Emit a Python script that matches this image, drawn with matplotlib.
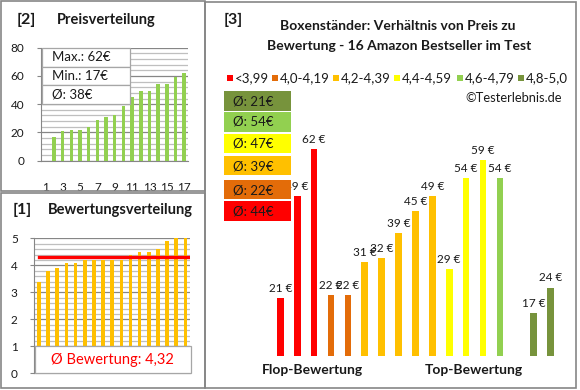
import numpy as np
import matplotlib
matplotlib.use('Agg')
import matplotlib.pyplot as plt
from matplotlib.patches import Rectangle

plt.rcParams['font.family'] = ['Lato', 'DejaVu Sans']

# --- data ---
price_sorted = [17, 21, 22, 22, 24, 29, 31, 32, 39, 45, 49, 49, 54, 54, 59, 62]
rating_sorted = [3.4, 3.8, 3.9, 4.1, 4.1, 4.2, 4.2, 4.2, 4.2, 4.2, 4.4, 4.5, 4.5, 4.6, 4.9, 5.0, 5.0]
avg_rating = 4.32
groups = ['<3,99', '4,0-4,19', '4,2-4,39', '4,4-4,59', '4,6-4,79', '4,8-5,0']
group_colors = ['#FF0000', '#E36C09', '#FFC000', '#FFFF00', '#92D050', '#77933C']
group_prices = [[21, 49, 62], [22, 22], [31, 32, 39, 45, 49], [29, 54, 59], [54], [17, 24]]

W, H = 580, 390
GRID_MAJ = '#868686'
GRID_MIN = '#BFBFBF'
TXT = '#1a1a1a'


def box(x0, y0, x1, y1):
    # pixel box (top-left origin) -> figure fraction rect
    return [x0 / W, 1 - y1 / H, (x1 - x0) / W, (y1 - y0) / H]


def frect(x0, y0, x1, y1, **kw):
    r = Rectangle((x0 / W, 1 - y1 / H), (x1 - x0) / W, (y1 - y0) / H,
                  transform=fig.transFigure, **kw)
    fig.add_artist(r)
    return r


def ftext(x, y, s, **kw):
    return fig.text(x / W, 1 - y / H, s, **kw)


def round_half_up(v):
    return int(np.floor(v + 0.5))


fig = plt.figure(figsize=(W / 100, H / 100), dpi=100)

# panel frames
frect(1, 1, 205, 191, fill=False, edgecolor=GRID_MAJ, lw=1.2, zorder=5)
frect(1, 193, 205, 388, fill=False, edgecolor=GRID_MAJ, lw=1.2, zorder=5)
frect(205, 2, 576, 388, fill=False, edgecolor=GRID_MAJ, lw=1.2, zorder=5)

# ---------------- [2] Preisverteilung ----------------
ax2 = fig.add_axes(box(41, 47.7, 188.5, 160.7))
xp = np.arange(2, len(price_sorted) + 2)
ax2.bar(xp, price_sorted, width=0.4, color='#92D050', zorder=3)
ax2.set_xlim(0.5, 17.5)
ax2.set_ylim(0, 80)
ax2.set_yticks(np.arange(0, 81, 20))
ax2.set_yticks(np.arange(0, 81, 4), minor=True)
ax2.set_xticks(np.arange(1, 18, 2))
ax2.grid(axis='y', which='major', color=GRID_MAJ, lw=0.9, zorder=0)
ax2.grid(axis='y', which='minor', color=GRID_MIN, lw=0.9, zorder=0)
ax2.tick_params(axis='x', length=0, pad=15, labelsize=8.5, labelcolor=TXT)
ax2.tick_params(axis='y', which='major', length=3, color=GRID_MAJ, pad=9, labelsize=8.5, labelcolor=TXT)
ax2.tick_params(axis='y', which='minor', length=0)
for s in ['top', 'right']:
    ax2.spines[s].set_visible(False)
for s in ['left', 'bottom']:
    ax2.spines[s].set_color(GRID_MAJ)

ftext(26, 20, '[2]', fontsize=11.5, fontweight='bold', ha='center', va='center', color=TXT)
ftext(57, 20, 'Preisverteilung', fontsize=10.5, fontweight='bold', ha='left', va='center', color=TXT)

stats = ['Max.: %d€' % max(price_sorted),
         'Min.: %d€' % min(price_sorted),
         'Ø: %d€' % round_half_up(np.mean(price_sorted))]
rows = [(47.7, 66.7), (66.7, 85.3), (85.3, 104)]
for (t, b), s in zip(rows, stats):
    frect(41.7, t, 130, b, facecolor='white', edgecolor='#A6A6A6', lw=0.9, zorder=6)
    ftext(52, (t + b) / 2, s, fontsize=9.5, ha='left', va='center', color=TXT, zorder=7)

# ---------------- [1] Bewertungsverteilung ----------------
ax1 = fig.add_axes(box(34.4, 238.3, 190, 373.3))
xr = np.arange(1, len(rating_sorted) + 1)
ax1.bar(xr, rating_sorted, width=0.4, color='#FFC000', zorder=3)
ax1.plot([xr[0], xr[-1] + 0.25], [avg_rating, avg_rating], color='#FF0000', lw=2.4, zorder=4)
ax1.set_xlim(0.5, 17.5)
ax1.set_ylim(0, 5)
ax1.set_yticks(np.arange(0, 6, 1))
ax1.set_yticks(np.arange(0, 5.01, 0.2), minor=True)
ax1.set_xticks([])
ax1.grid(axis='y', which='major', color=GRID_MAJ, lw=0.9, zorder=0)
ax1.grid(axis='y', which='minor', color=GRID_MIN, lw=0.9, zorder=0)
ax1.tick_params(axis='y', which='major', length=3, color=GRID_MAJ, pad=9, labelsize=8.5, labelcolor=TXT)
ax1.tick_params(axis='y', which='minor', length=0)
for s in ['top', 'right']:
    ax1.spines[s].set_visible(False)
for s in ['left', 'bottom']:
    ax1.spines[s].set_color(GRID_MAJ)

frect(35, 345.7, 190.7, 373.3, facecolor='white', edgecolor='#A6A6A6', lw=0.9, zorder=6)
ftext(112, 360, 'Ø Bewertung: ' + ('%.2f' % avg_rating).replace('.', ','),
      fontsize=10.5, ha='center', va='center', color='#FF0000', zorder=7)
ftext(22, 210, '[1]', fontsize=11.5, fontweight='bold', ha='center', va='center', color=TXT)
ftext(48, 210, 'Bewertungsverteilung', fontsize=10.5, fontweight='bold', ha='left', va='center', color=TXT)

# ---------------- [3] Preis zu Bewertung ----------------
ax3 = fig.add_axes(box(271.9, 119.9, 559, 355.7))
xs, vals, cols = [], [], []
pos = 0
for gi, prices in enumerate(group_prices):
    if gi == len(group_prices) - 1:
        pos += 1  # empty slot before the top group
    for p in prices:
        xs.append(pos)
        vals.append(p)
        cols.append(group_colors[gi])
        pos += 1
bars = ax3.bar(xs, vals, width=0.4, color=cols, zorder=3)
ax3.bar_label(bars, labels=['%d €' % v for v in vals], padding=3, fontsize=8.5, color=TXT)
ax3.set_xlim(-0.5, 16.5)
ax3.set_ylim(5.3, 70)
ax3.axis('off')

ftext(233, 20, '[3]', fontsize=11.5, fontweight='bold', ha='center', va='center', color=TXT)
ftext(398, 26, 'Boxenständer: Verhältnis von Preis zu', fontsize=10, fontweight='bold',
      ha='center', va='center', color=TXT)
ftext(399, 46, 'Bewertung - 16 Amazon Bestseller im Test', fontsize=10, fontweight='bold',
      ha='center', va='center', color=TXT)

# legend row
leg_sq = [227, 272, 333, 394, 457, 518]
for gx, g, c in zip(leg_sq, groups, group_colors):
    frect(gx, 75, gx + 5.5, 80.5, facecolor=c, edgecolor='none', zorder=6)
    ftext(gx + 8, 78.5, g, fontsize=9.5, ha='left', va='center', color=TXT)
ftext(562, 98, '©Testerlebnis.de', fontsize=9.3, ha='right', va='center', color=TXT)

# group average boxes (top group first)
box_tops = [91, 112, 134, 156, 180, 201]
for i, gi in enumerate(range(len(group_prices) - 1, -1, -1)):
    t = box_tops[i]
    frect(224, t, 291, t + 19.5, facecolor=group_colors[gi], edgecolor='none', zorder=6)
    ftext(233, t + 10, 'Ø: %d€' % round_half_up(np.mean(group_prices[gi])),
          fontsize=9.5, ha='left', va='center', color=TXT, zorder=7)

ftext(312, 370, 'Flop-Bewertung', fontsize=10, fontweight='bold', ha='center', va='center', color=TXT)
ftext(474, 370, 'Top-Bewertung', fontsize=10, fontweight='bold', ha='center', va='center', color=TXT)

fig.savefig('out.png', dpi=100)
